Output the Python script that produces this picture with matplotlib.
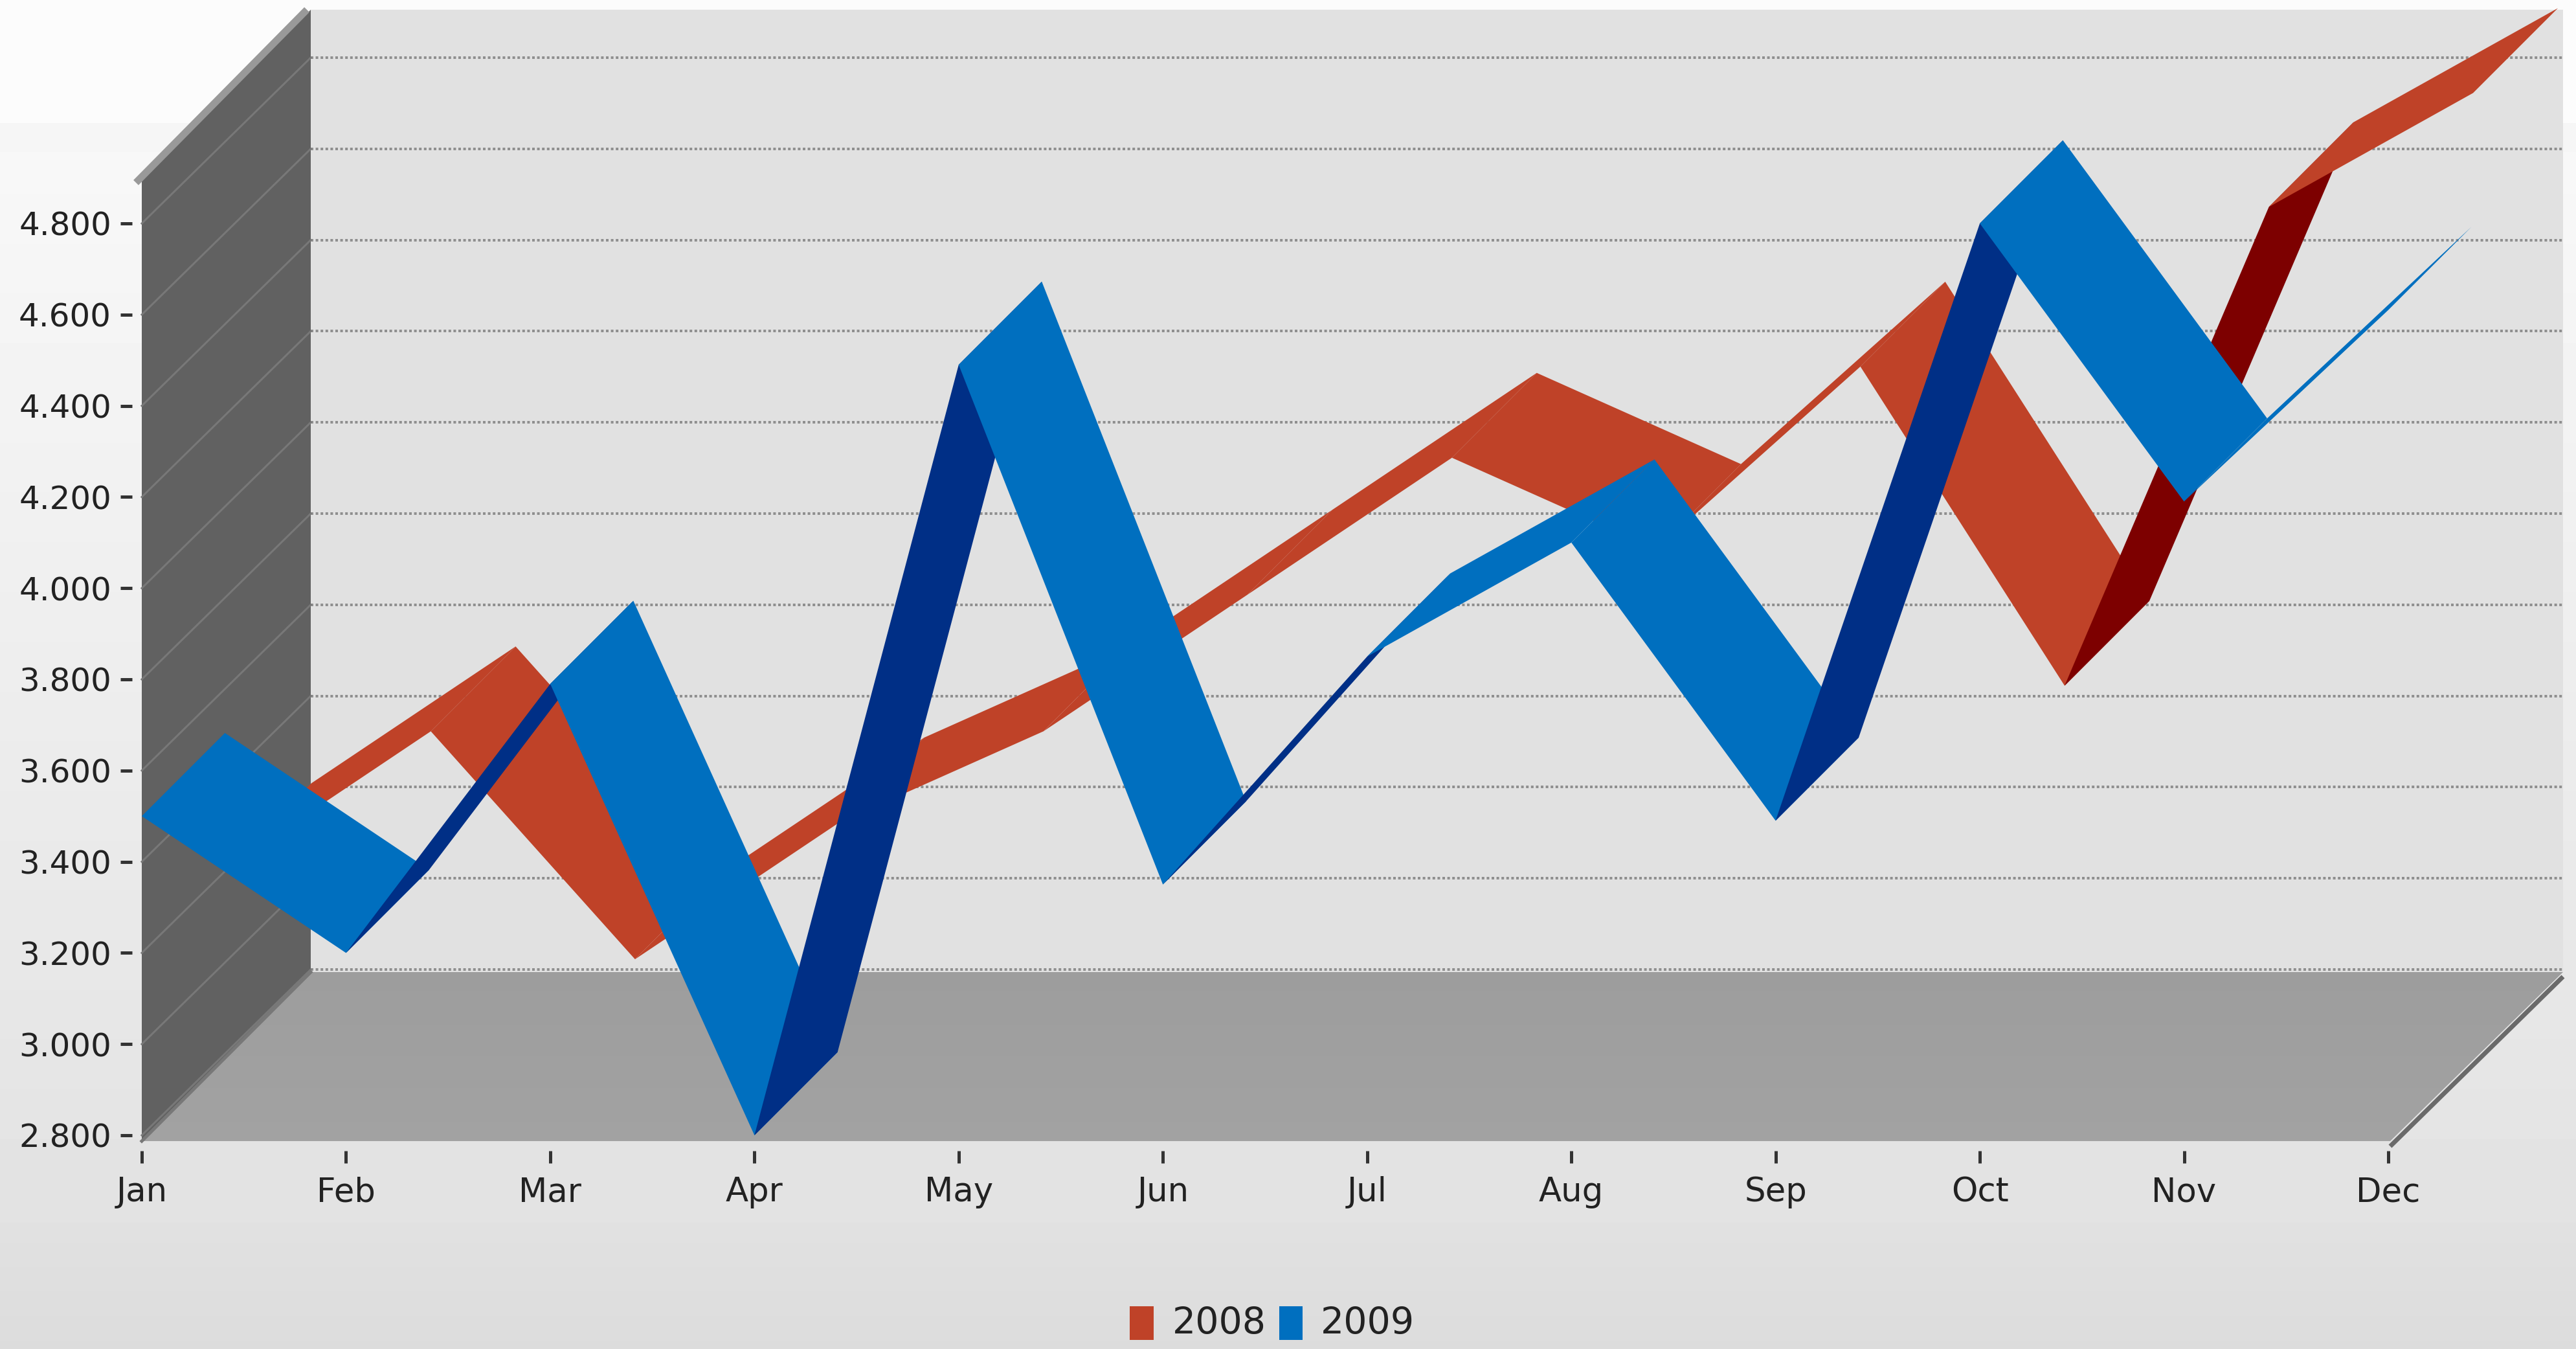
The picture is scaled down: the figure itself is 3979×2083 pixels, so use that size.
import numpy as np
import matplotlib
matplotlib.use("Agg")
import matplotlib.pyplot as plt
from matplotlib.patches import Polygon, Rectangle

W, H = 3980, 2083
DPI = 100

months = ["Jan", "Feb", "Mar", "Apr", "May", "Jun", "Jul", "Aug", "Sep", "Oct", "Nov", "Dec"]
y_ticks = [2.8, 3.0, 3.2, 3.4, 3.6, 3.8, 4.0, 4.2, 4.4, 4.6, 4.8]
values_2008 = [3.2, 3.5, 3.0, 3.3, 3.5, 3.8, 4.1, 3.9, 4.3, 3.6, 4.65, 4.9]
values_2009 = [3.5, 3.2, 3.79, 2.8, 4.49, 3.35, 3.85, 4.1, 3.49, 4.8, 4.19, 4.61]

RED, RED_DARK = "#bf4228", "#7d0000"
BLUE, BLUE_DARK = "#006fbf", "#002f86"

# front plane of the box in pixels
X_JAN, X_DEC = 219, 3689
Y_LOW, Y_HIGH = 1753, 345
PX_X = (X_DEC - X_JAN) / 11
PX_Y = (Y_LOW - Y_HIGH) / 2.0
DEPTH_PX = 262
DX = DEPTH_PX / PX_X
DY = DEPTH_PX / PX_Y


def pt(px):
    return px * 72 / DPI


fig = plt.figure(figsize=(W / DPI, H / DPI), dpi=DPI)

# page background and the box walls, in pixel coordinates
bg = fig.add_axes([0, 0, 1, 1], zorder=0)
bg.set_xlim(0, W)
bg.set_ylim(H, 0)
bg.axis("off")

shade = np.zeros((H, 1))
shade[:190] = 0.988
shade[190:235] = 0.962
shade[235:1888, 0] = np.linspace(0.972, 0.888, 1653)
shade[1888:, 0] = np.linspace(0.882, 0.862, H - 1888)
bg.imshow(shade, cmap="gray", vmin=0, vmax=1, extent=(0, W, H, 0), aspect="auto", zorder=0)

bg.add_patch(Rectangle((480, 15), 3479, 1486, fc="#e1e1e1", ec="none", zorder=1))
left_wall = Polygon([(219, 1762), (219, 278), (480, 15), (480, 1501)], fc="#616161", ec="none", zorder=2)
bg.add_patch(left_wall)
bg.plot([210, 474], [282, 15], color="#999999", lw=pt(11), solid_capstyle="butt", zorder=3)

floor = Polygon([(219, 1762), (3692, 1762), (3959, 1501), (480, 1501)], fc="none", ec="none", zorder=2)
bg.add_patch(floor)
floor_shade = np.linspace(0.615, 0.635, 64).reshape(-1, 1)
im = bg.imshow(floor_shade, cmap="gray", vmin=0, vmax=1, extent=(219, 3959, 1762, 1501), aspect="auto", zorder=2)
im.set_clip_path(floor)
bg.set_xlim(0, W)
bg.set_ylim(H, 0)
bg.plot([219, 480], [1762, 1501], color="#787878", lw=pt(5), zorder=3)
bg.plot([3692, 3959], [1770, 1508], color="#6a6a6a", lw=pt(7), solid_capstyle="butt", zorder=3)

# chart axes: the data range sits exactly on the front plane
ax = fig.add_axes([X_JAN / W, 1 - Y_LOW / H, (X_DEC - X_JAN) / W, (Y_LOW - Y_HIGH) / H], zorder=1)
ax.patch.set_alpha(0)
ax.set_xlim(0, 11)
ax.set_ylim(2.8, 4.8)
for s in ["top", "right"]:
    ax.spines[s].set_visible(False)
ax.spines["left"].set_visible(False)
ax.spines["bottom"].set_visible(False)
ax.spines["left"].set_position(("outward", pt(15)))
ax.spines["bottom"].set_position(("outward", pt(24)))

ax.set_xticks(range(12))
ax.set_xticklabels(months)
ax.set_yticks(y_ticks)
ax.set_yticklabels([f"{v:.3f}" for v in y_ticks])
ax.tick_params(axis="x", length=pt(19), width=pt(5), color="#333333", labelsize=37, labelcolor="#222222", pad=pt(20))
ax.tick_params(axis="y", length=pt(18), width=pt(5), color="#333333", labelsize=36, labelcolor="#222222", pad=pt(14))

# dotted grid on the back wall and faint lines across the left wall
grid_shift = 256 / PX_Y
for v in y_ticks:
    ax.plot([(480 - X_JAN) / PX_X, (3959 - X_JAN) / PX_X], [v + grid_shift, v + grid_shift], color="#8f8f8f",
            lw=pt(4), ls=(0, (1.0, 0.9)), clip_on=False, zorder=2)
    ax.plot([0, (480 - X_JAN) / PX_X], [v, v + grid_shift], color="#787878", lw=pt(3), clip_on=False, zorder=2)


def ribbon(values, near, far, color, dark, z):
    # one quad per month step, darker where the step is steeper than the depth direction
    for i in range(len(values) - 1):
        y0, y1 = values[i], values[i + 1]
        quad = [(i + near * DX, y0 + near * DY), (i + far * DX, y0 + far * DY),
                (i + 1 + far * DX, y1 + far * DY), (i + 1 + near * DX, y1 + near * DY)]
        steep = (y1 - y0) * PX_Y / PX_X > 1
        ax.add_patch(Polygon(quad, fc=dark if steep else color, ec="none", clip_on=False, zorder=z + i * 0.01))


ribbon(values_2008, 0.5, 1.0, RED, RED_DARK, 3)
ribbon(values_2009, 0.0, 0.49, BLUE, BLUE_DARK, 4)

# legend along the bottom edge
bg.add_patch(Rectangle((1745, 2017), 37, 52, fc=RED, ec="none", zorder=4))
bg.text(1811, 2044, "2008", fontsize=41, color="#222222", va="center", ha="left", zorder=4)
bg.add_patch(Rectangle((1976, 2017), 36, 52, fc=BLUE, ec="none", zorder=4))
bg.text(2040, 2044, "2009", fontsize=41, color="#222222", va="center", ha="left", zorder=4)

fig.savefig("out.png", dpi=DPI)
